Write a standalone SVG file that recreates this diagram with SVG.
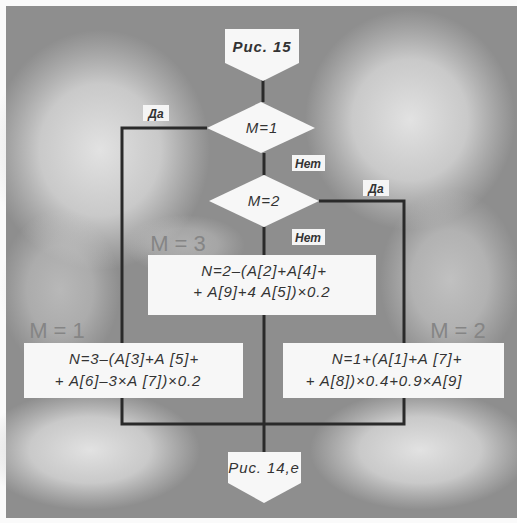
<svg xmlns="http://www.w3.org/2000/svg" width="517" height="523" viewBox="0 0 517 523">
<style>
.ln{stroke:#2a2a2a;stroke-width:3;fill:none;stroke-linejoin:miter}
.box{fill:#f7f7f7}
.t{font-family:"Liberation Sans","DejaVu Sans",sans-serif;font-style:italic;fill:#333;text-anchor:middle}
.f{font-size:15px;letter-spacing:0.9px}
.lab{font-size:12px;font-weight:bold}
.lb{fill:#f5f5f5}
.hw{font-family:"Liberation Sans","DejaVu Sans",sans-serif;font-size:22px;fill:#858585;text-anchor:middle}
</style>
<defs>
<radialGradient id="glow">
<stop offset="0" stop-color="#e2e2e2" stop-opacity="1"/>
<stop offset="0.55" stop-color="#d8d8d8" stop-opacity="0.8"/>
<stop offset="1" stop-color="#d0d0d0" stop-opacity="0"/>
</radialGradient>
</defs>
<rect x="0" y="0" width="517" height="523" fill="#fafafa"/>
<rect x="6" y="6" width="511" height="512" fill="#8e8e8e"/>
<ellipse cx="100" cy="150" rx="110" ry="120" fill="url(#glow)"/>
<ellipse cx="410" cy="120" rx="105" ry="110" fill="url(#glow)"/>
<ellipse cx="90" cy="450" rx="110" ry="60" fill="url(#glow)"/>
<ellipse cx="420" cy="450" rx="110" ry="60" fill="url(#glow)"/>
<ellipse cx="450" cy="280" rx="70" ry="90" fill="url(#glow)" opacity="0.6"/>
<ellipse cx="60" cy="290" rx="60" ry="80" fill="url(#glow)" opacity="0.5"/>
<ellipse cx="185" cy="245" rx="60" ry="30" fill="url(#glow)" opacity="0.4"/>
<rect x="0" y="0" width="517" height="6" fill="#fafafa"/>
<rect x="0" y="518" width="517" height="5" fill="#fafafa"/>

<g id="handwritten">
<text class="hw" x="178" y="251">M = 3</text>
<text class="hw" x="57" y="338">M = 1</text>
<text class="hw" x="458" y="338">M = 2</text>
</g>

<g id="connectors">
<path class="ln" d="M263 80 V102"/>
<path class="ln" d="M264 153 V175"/>
<path class="ln" d="M264 227 V256"/>
<path class="ln" d="M207 128 H122 V424 H404 V201 H319"/>
<path class="ln" d="M264 315 V452"/>
</g>

<g id="start">
<polygon class="box" points="225,29 299,29 299,63 263,81 225,63"/>
<text class="t f" x="262" y="52" font-weight="bold">Рис. 15</text>
</g>

<g id="m1">
<polygon class="box" points="207,128 261,102 315,128 261,153"/>
<text class="t f" x="262" y="133">M=1</text>
</g>

<g id="m2">
<polygon class="box" points="209,201 264,175 319,201 264,227"/>
<text class="t f" x="264" y="206">M=2</text>
</g>

<g id="labels">
<rect class="lb" x="143" y="105" width="26" height="16"/>
<text class="t lab" x="156" y="118">Да</text>
<rect class="lb" x="292" y="155" width="33" height="16"/>
<text class="t lab" x="308" y="168">Нет</text>
<rect class="lb" x="363" y="180" width="26" height="16"/>
<text class="t lab" x="376" y="193">Да</text>
<rect class="lb" x="292" y="229" width="33" height="16"/>
<text class="t lab" x="308" y="242">Нет</text>
</g>

<g id="calc3">
<rect class="box" x="148" y="255" width="228" height="60"/>
<text class="t f" x="264" y="276">N=2–(A[2]+A[4]+</text>
<text class="t f" x="262" y="297">+ A[9]+4 A[5])×0.2</text>
</g>

<g id="calc1">
<rect class="box" x="24" y="343" width="219" height="55"/>
<text class="t f" x="134" y="364">N=3–(A[3]+A [5]+</text>
<text class="t f" x="128" y="386">+ A[6]–3×A [7])×0.2</text>
</g>

<g id="calc2">
<rect class="box" x="283" y="343" width="221" height="55"/>
<text class="t f" x="397" y="364">N=1+(A[1]+A [7]+</text>
<text class="t f" x="384" y="386">+ A[8])×0.4+0.9×A[9]</text>
</g>

<g id="end">
<polygon class="box" points="228,452 301,452 301,483 264,503 228,483"/>
<text class="t f" x="264" y="473">Рис. 14,е</text>
</g>
</svg>
